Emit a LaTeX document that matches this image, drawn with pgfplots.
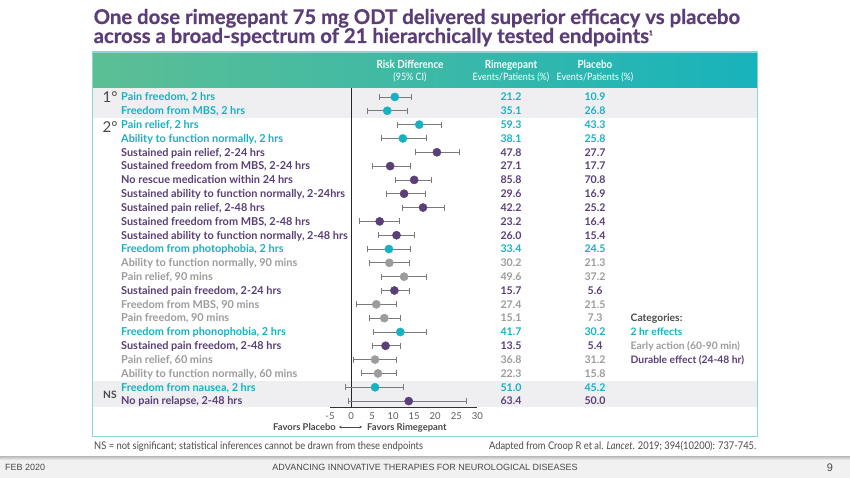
\documentclass[border=0pt]{standalone}
\usepackage{fontspec}
\setmainfont{Lato}
\newfontfamily\condf[FakeStretch=0.88]{Lato}
\newfontfamily\ttlf[FakeBold=0.6]{Lato}
\newfontfamily\arialf{Liberation Sans}
\usepackage{pgfplots}
\usepackage{pgfplotstable}
\pgfplotsset{compat=1.18}
\usetikzlibrary{arrows.meta}
\definecolor{tl}{HTML}{17B1C4}
\definecolor{pu}{HTML}{5A3F78}
\definecolor{gy}{HTML}{9C9C9C}
\definecolor{ttl}{HTML}{5B3E78}
\definecolor{hdrL}{HTML}{5CBF94}
\definecolor{hdrM}{HTML}{3DB9A6}
\definecolor{hdrR}{HTML}{17B3BC}
\definecolor{bord}{HTML}{8AD6D4}
\definecolor{shd}{HTML}{EFEFF1}
\definecolor{errc}{HTML}{7A7A7A}
\definecolor{dk}{HTML}{4A4A4A}
\definecolor{foot}{HTML}{F1F1F1}
\definecolor{tick}{HTML}{5A5A5A}

% row, risk difference, lower CI, upper CI
\pgfplotstableread{
row rd lo hi
1 10.4 6.7 14.4
2 8.6 3.9 13.5
3 16.2 10.9 21.5
4 12.3 7.3 18.0
12 9.0 3.9 14.2
18 11.7 5.4 18.0
22 5.7 -1.3 12.5
}\twohr
\pgfplotstableread{
row rd lo hi
13 9.1 4.3 13.8
14 12.6 7.3 18.0
16 6.0 1.3 10.8
17 7.9 4.3 11.7
20 5.7 0.6 10.8
21 6.4 2.4 10.8
}\early
\pgfplotstableread{
row rd lo hi
5 20.4 15.4 25.7
6 9.3 5.0 14.2
7 15.0 10.6 19.2
8 12.6 8.3 17.7
9 17.1 12.3 22.1
10 6.8 2.0 11.5
11 10.8 6.5 15.0
15 10.3 7.1 13.8
19 8.2 5.1 11.7
23 13.7 -0.7 27.5
}\durable

\pgfplotsset{errstyle/.style={draw=none, mark=none, error bars/.cd, x dir=both, x explicit,
  error mark=|,
  error bar style={color=errc, line width=0.8pt},
  error mark options={color=errc, mark size=3pt, line width=0.8pt}}}

\begin{document}
\begin{tikzpicture}
\path[use as bounding box, fill=white] (0pt,0pt) rectangle (850pt,-478pt);
\begin{scope}[x=1pt,y=-1pt]
% footer band
\fill[foot] (0,457) rectangle (850,478);
\shade[top color=black!25, bottom color=foot] (0,456.5) rectangle (850,460);
% header band
\shade[left color=hdrL, right color=hdrR, middle color=hdrM] (92.7,52) rectangle (757.3,88.3);
% shaded rows
\fill[shd] (93.4,88.3) rectangle (756.6,118);
\fill[shd] (93.4,381) rectangle (756.6,407.3);
\draw[bord, line width=1.3pt] (92.7,52) rectangle (757.3,436.7);
% title
\node[anchor=base west, text=ttl, font=\ttlf\fontsize{20.3}{22}\selectfont\bfseries, inner sep=0] at (93.5,24) {One dose rimegepant 75 mg ODT delivered superior efficacy vs placebo};
\node[anchor=base west, text=ttl, font=\ttlf\fontsize{20.3}{22}\selectfont\bfseries, inner sep=0] at (93.5,43) {across a broad-spectrum of 21 hierarchically tested endpoints\textsuperscript{\fontsize{7}{8}\selectfont 1}};
% header text
\node[text=white, font=\condf\fontsize{11.2}{12}\selectfont\bfseries, inner sep=0, anchor=base] at (410,68.5) {Risk Difference};
\node[text=white, font=\condf\fontsize{10.2}{11}\selectfont, inner sep=0, anchor=base] at (410,81) {(95\% CI)};
\node[text=white, font=\condf\fontsize{11.2}{12}\selectfont\bfseries, inner sep=0, anchor=base] at (511,68.5) {Rimegepant};
\node[text=white, font=\condf\fontsize{10.2}{11}\selectfont, inner sep=0, anchor=base] at (511,81) {Events/Patients (\%)};
\node[text=white, font=\condf\fontsize{11.2}{12}\selectfont\bfseries, inner sep=0, anchor=base] at (595,68.5) {Placebo};
\node[text=white, font=\condf\fontsize{10.2}{11}\selectfont, inner sep=0, anchor=base] at (595,81) {Events/Patients (\%)};
% side markers
\node[text=dk, font=\fontsize{15}{16}\selectfont, inner sep=0, anchor=base west] at (102.5,102.5) {1\textdegree};
\node[text=dk, font=\fontsize{15}{16}\selectfont, inner sep=0, anchor=base west] at (102.5,132.5) {2\textdegree};
\node[text=dk, font=\fontsize{10.2}{11}\selectfont\bfseries, inner sep=0, anchor=base west] at (103,398) {NS};
% rows
\foreach \i/\c/\t/\r/\p in {
1/tl/{Pain freedom, 2 hrs}/21.2/10.9,
2/tl/{Freedom from MBS, 2 hrs}/35.1/26.8,
3/tl/{Pain relief, 2 hrs}/59.3/43.3,
4/tl/{Ability to function normally, 2 hrs}/38.1/25.8,
5/pu/{Sustained pain relief, 2-24 hrs}/47.8/27.7,
6/pu/{Sustained freedom from MBS, 2-24 hrs}/27.1/17.7,
7/pu/{No rescue medication within 24 hrs}/85.8/70.8,
8/pu/{Sustained ability to function normally, 2-24hrs}/29.6/16.9,
9/pu/{Sustained pain relief, 2-48 hrs}/42.2/25.2,
10/pu/{Sustained freedom from MBS, 2-48 hrs}/23.2/16.4,
11/pu/{Sustained ability to function normally, 2-48 hrs}/26.0/15.4,
12/tl/{Freedom from photophobia, 2 hrs}/33.4/24.5,
13/gy/{Ability to function normally, 90 mins}/30.2/21.3,
14/gy/{Pain relief, 90 mins}/49.6/37.2,
15/pu/{Sustained pain freedom, 2-24 hrs}/15.7/5.6,
16/gy/{Freedom from MBS, 90 mins}/27.4/21.5,
17/gy/{Pain freedom, 90 mins}/15.1/7.3,
18/tl/{Freedom from phonophobia, 2 hrs}/41.7/30.2,
19/pu/{Sustained pain freedom, 2-48 hrs}/13.5/5.4,
20/gy/{Pain relief, 60 mins}/36.8/31.2,
21/gy/{Ability to function normally, 60 mins}/22.3/15.8,
22/tl/{Freedom from nausea, 2 hrs}/51.0/45.2,
23/pu/{No pain relapse, 2-48 hrs}/63.4/50.0}{
\pgfmathsetmacro\yy{97+(\i-1)*13.82+3.8}
\node[text=\c, font=\fontsize{10.9}{11}\selectfont\bfseries, inner sep=0, anchor=base west] at (121,\yy) {\t};
\node[text=\c, font=\fontsize{10.6}{11}\selectfont\bfseries, inner sep=0, anchor=base] at (511,\yy) {\r};
\node[text=\c, font=\fontsize{10.6}{11}\selectfont\bfseries, inner sep=0, anchor=base] at (595,\yy) {\p};
}
% categories
\node[text=dk, font=\fontsize{10.3}{11}\selectfont\bfseries, inner sep=0, anchor=base west] at (630.5,321.8) {Categories:};
\node[text=tl, font=\fontsize{10.3}{11}\selectfont\bfseries, inner sep=0, anchor=base west] at (630.5,335.5) {2 hr effects};
\node[text=gy, font=\fontsize{10.3}{11}\selectfont\bfseries, inner sep=0, anchor=base west] at (630.5,349.3) {Early action (60-90 min)};
\node[text=pu, font=\fontsize{10.3}{11}\selectfont\bfseries, inner sep=0, anchor=base west] at (630.5,363) {Durable effect (24-48 hr)};
% favors
\node[text=dk, font=\fontsize{9.4}{10}\selectfont\bfseries, inner sep=0, anchor=base east] at (336,430.5) {Favors Placebo};
\draw[dk, line width=0.5pt, {Stealth[length=2.5pt,width=2.5pt]}-{Stealth[length=2.5pt,width=2.5pt]}] (339,427) -- (362,427);
\node[text=dk, font=\fontsize{9.4}{10}\selectfont\bfseries, inner sep=0, anchor=base west] at (367,430.5) {Favors Rimegepant};
% footnotes
\node[text=dk, font=\condf\fontsize{10.6}{11}\selectfont, inner sep=0, anchor=base west] at (94,449.5) {NS = not significant; statistical inferences cannot be drawn from these endpoints};
\node[text=dk, font=\condf\fontsize{10.6}{11}\selectfont, inner sep=0, anchor=base east] at (756.5,449.5) {Adapted from Croop R et al. \textit{Lancet}. 2019; 394(10200): 737-745.};
\node[text=dk, font=\arialf\fontsize{9}{10}\selectfont, inner sep=0, anchor=base west] at (5,470.5) {FEB 2020};
\node[text=dk, font=\arialf\fontsize{9}{10}\selectfont, inner sep=0, anchor=base] at (425,470.5) {ADVANCING INNOVATIVE THERAPIES FOR NEUROLOGICAL DISEASES};
\node[text=dk, font=\arialf\fontsize{11}{12}\selectfont, inner sep=0, anchor=base] at (830,471.5) {9};
\end{scope}

\begin{axis}[
  at={(330pt,-407.3pt)}, anchor=south west,
  scale only axis, width=147.3pt, height=319.3pt,
  xmin=-5, xmax=30, ymin=-23.45, ymax=-0.35,
  axis x line*=bottom, axis y line=none,
  axis line style={-, color=black!80, line width=0.9pt},
  xtick={-5,0,5,10,15,20,25,30},
  major tick length=0pt,
  xticklabel style={font=\fontsize{9.5}{10}\selectfont, text=tick, yshift=-2pt},
  /pgf/number format/assume math mode=true,
  clip=false,
]
\addplot[color=black!85, line width=0.9pt] coordinates {(0,-0.35) (0,-23.45)};
\addplot[errstyle] table[x=rd, y expr=-\thisrow{row}, x error plus expr=\thisrow{hi}-\thisrow{rd}, x error minus expr=\thisrow{rd}-\thisrow{lo}] {\twohr};
\addplot[errstyle] table[x=rd, y expr=-\thisrow{row}, x error plus expr=\thisrow{hi}-\thisrow{rd}, x error minus expr=\thisrow{rd}-\thisrow{lo}] {\early};
\addplot[errstyle] table[x=rd, y expr=-\thisrow{row}, x error plus expr=\thisrow{hi}-\thisrow{rd}, x error minus expr=\thisrow{rd}-\thisrow{lo}] {\durable};
\addplot[only marks, mark=*, mark size=4.1pt, mark options={fill=tl, draw=tl}] table[x=rd, y expr=-\thisrow{row}] {\twohr};
\addplot[only marks, mark=*, mark size=4.1pt, mark options={fill=gy, draw=gy}] table[x=rd, y expr=-\thisrow{row}] {\early};
\addplot[only marks, mark=*, mark size=4.1pt, mark options={fill=pu, draw=pu}] table[x=rd, y expr=-\thisrow{row}] {\durable};
\end{axis}
\end{tikzpicture}
\end{document}
